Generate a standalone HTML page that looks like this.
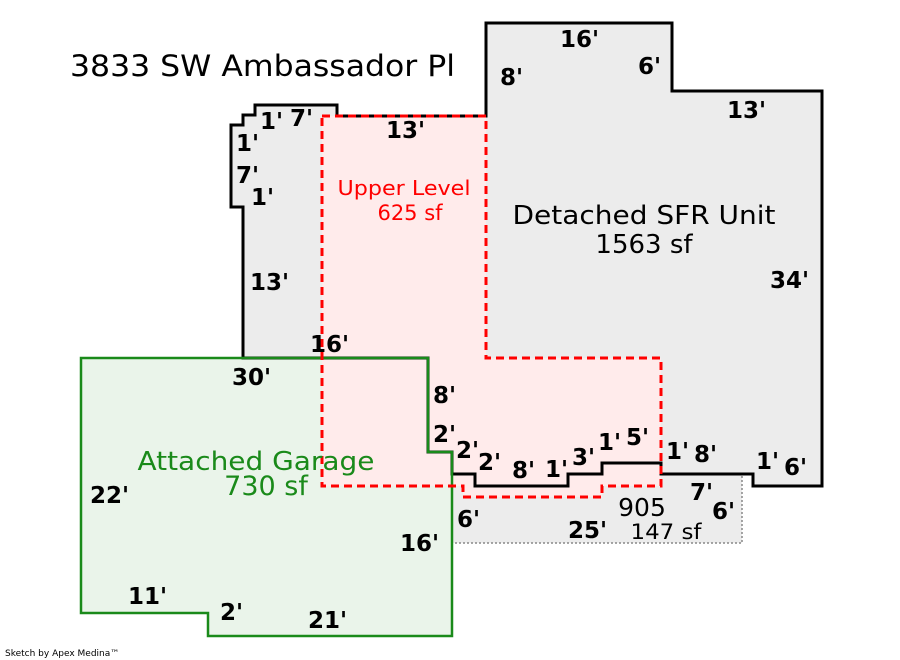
<!DOCTYPE html>
<html><head><meta charset="utf-8"><style>
html,body{margin:0;padding:0;background:#fff;}
svg{display:block;}
.b{font-family:"DejaVu Sans","Liberation Sans",sans-serif;font-weight:bold;font-size:23px;fill:#000;}
.n{font-family:"DejaVu Sans","Liberation Sans",sans-serif;}
</style></head><body>
<svg width="900" height="660" viewBox="0 0 900 660" xmlns="http://www.w3.org/2000/svg">
<polygon points="486,23 672,23 672,91 822,91 822,486 753,486 753,474 661,474 661,463 602,463 602,474 568,474 568,486 475,486 475,474 452,474 452,452 428,452 428,358 243,358 243,207 231,207 231,125 243,125 243,115 255,115 255,105 337,105 337,116 486,116" fill="#ececec" stroke="none"/>
<polygon points="452,474 742,474 742,543 452,543" fill="#ececec" stroke="none"/>
<polygon points="81,358 428,358 428,452 452,452 452,636 208,636 208,613 81,613" fill="#eaf4ea" stroke="none"/>
<polygon points="322,116 486,116 486,358 661,358 661,486 602,486 602,497 463,497 463,486 322,486" fill="#ffebeb" stroke="none"/>
<polyline points="452,474 452,543 742,543 742,474" fill="none" stroke="#888" stroke-width="1.5" stroke-dasharray="2,2"/>
<polygon points="486,23 672,23 672,91 822,91 822,486 753,486 753,474 661,474 661,463 602,463 602,474 568,474 568,486 475,486 475,474 452,474 452,452 428,452 428,358 243,358 243,207 231,207 231,125 243,125 243,115 255,115 255,105 337,105 337,116 486,116" fill="none" stroke="#000" stroke-width="3"/>
<polygon points="81,358 428,358 428,452 452,452 452,636 208,636 208,613 81,613" fill="none" stroke="#1a8a1a" stroke-width="2.5"/>
<polygon points="322,116 486,116 486,358 661,358 661,486 602,486 602,497 463,497 463,486 322,486" fill="none" stroke="#f00" stroke-width="3" stroke-dasharray="8,5"/>
<text x="70" y="76" class="n" font-size="29" textLength="385" lengthAdjust="spacingAndGlyphs" fill="#000">3833 SW Ambassador Pl</text>
<text x="404" y="195" class="n" font-size="20" fill="#f00" text-anchor="middle" textLength="133" lengthAdjust="spacingAndGlyphs">Upper Level</text>
<text x="410" y="220" class="n" font-size="21" fill="#f00" text-anchor="middle">625 sf</text>
<text x="644" y="224" class="n" font-size="26" fill="#000" text-anchor="middle" textLength="263" lengthAdjust="spacingAndGlyphs">Detached SFR Unit</text>
<text x="644" y="253" class="n" font-size="26" fill="#000" text-anchor="middle">1563 sf</text>
<text x="256" y="470" class="n" font-size="26" fill="#1a8a1a" text-anchor="middle" textLength="237" lengthAdjust="spacingAndGlyphs">Attached Garage</text>
<text x="266" y="495" class="n" font-size="27" fill="#1a8a1a" text-anchor="middle">730 sf</text>
<text x="642" y="516" class="n" font-size="25" fill="#000" text-anchor="middle">905</text>
<text x="666" y="539" class="n" font-size="21" fill="#000" text-anchor="middle" textLength="71" lengthAdjust="spacingAndGlyphs">147 sf</text>
<text x="5" y="656" class="n" font-size="9" fill="#000">Sketch by Apex Medina™</text>
<g class="b">
<text x="560" y="47">16'</text>
<text x="500" y="85">8'</text>
<text x="638" y="74">6'</text>
<text x="727" y="118">13'</text>
<text x="386" y="138">13'</text>
<text x="260" y="129">1'</text>
<text x="290" y="126">7'</text>
<text x="236" y="151">1'</text>
<text x="236" y="183">7'</text>
<text x="251" y="205">1'</text>
<text x="250" y="290">13'</text>
<text x="770" y="288">34'</text>
<text x="310" y="352">16'</text>
<text x="232" y="385">30'</text>
<text x="433" y="403">8'</text>
<text x="433" y="442">2'</text>
<text x="456" y="458">2'</text>
<text x="478" y="470">2'</text>
<text x="512" y="478">8'</text>
<text x="545" y="477">1'</text>
<text x="572" y="465">3'</text>
<text x="598" y="450">1'</text>
<text x="626" y="445">5'</text>
<text x="666" y="459">1'</text>
<text x="694" y="462">8'</text>
<text x="756" y="469">1'</text>
<text x="784" y="475">6'</text>
<text x="690" y="500">7'</text>
<text x="712" y="519">6'</text>
<text x="568" y="538">25'</text>
<text x="457" y="527">6'</text>
<text x="400" y="551">16'</text>
<text x="90" y="503">22'</text>
<text x="128" y="604">11'</text>
<text x="220" y="620">2'</text>
<text x="308" y="628">21'</text>
</g>
</svg>
</body></html>
